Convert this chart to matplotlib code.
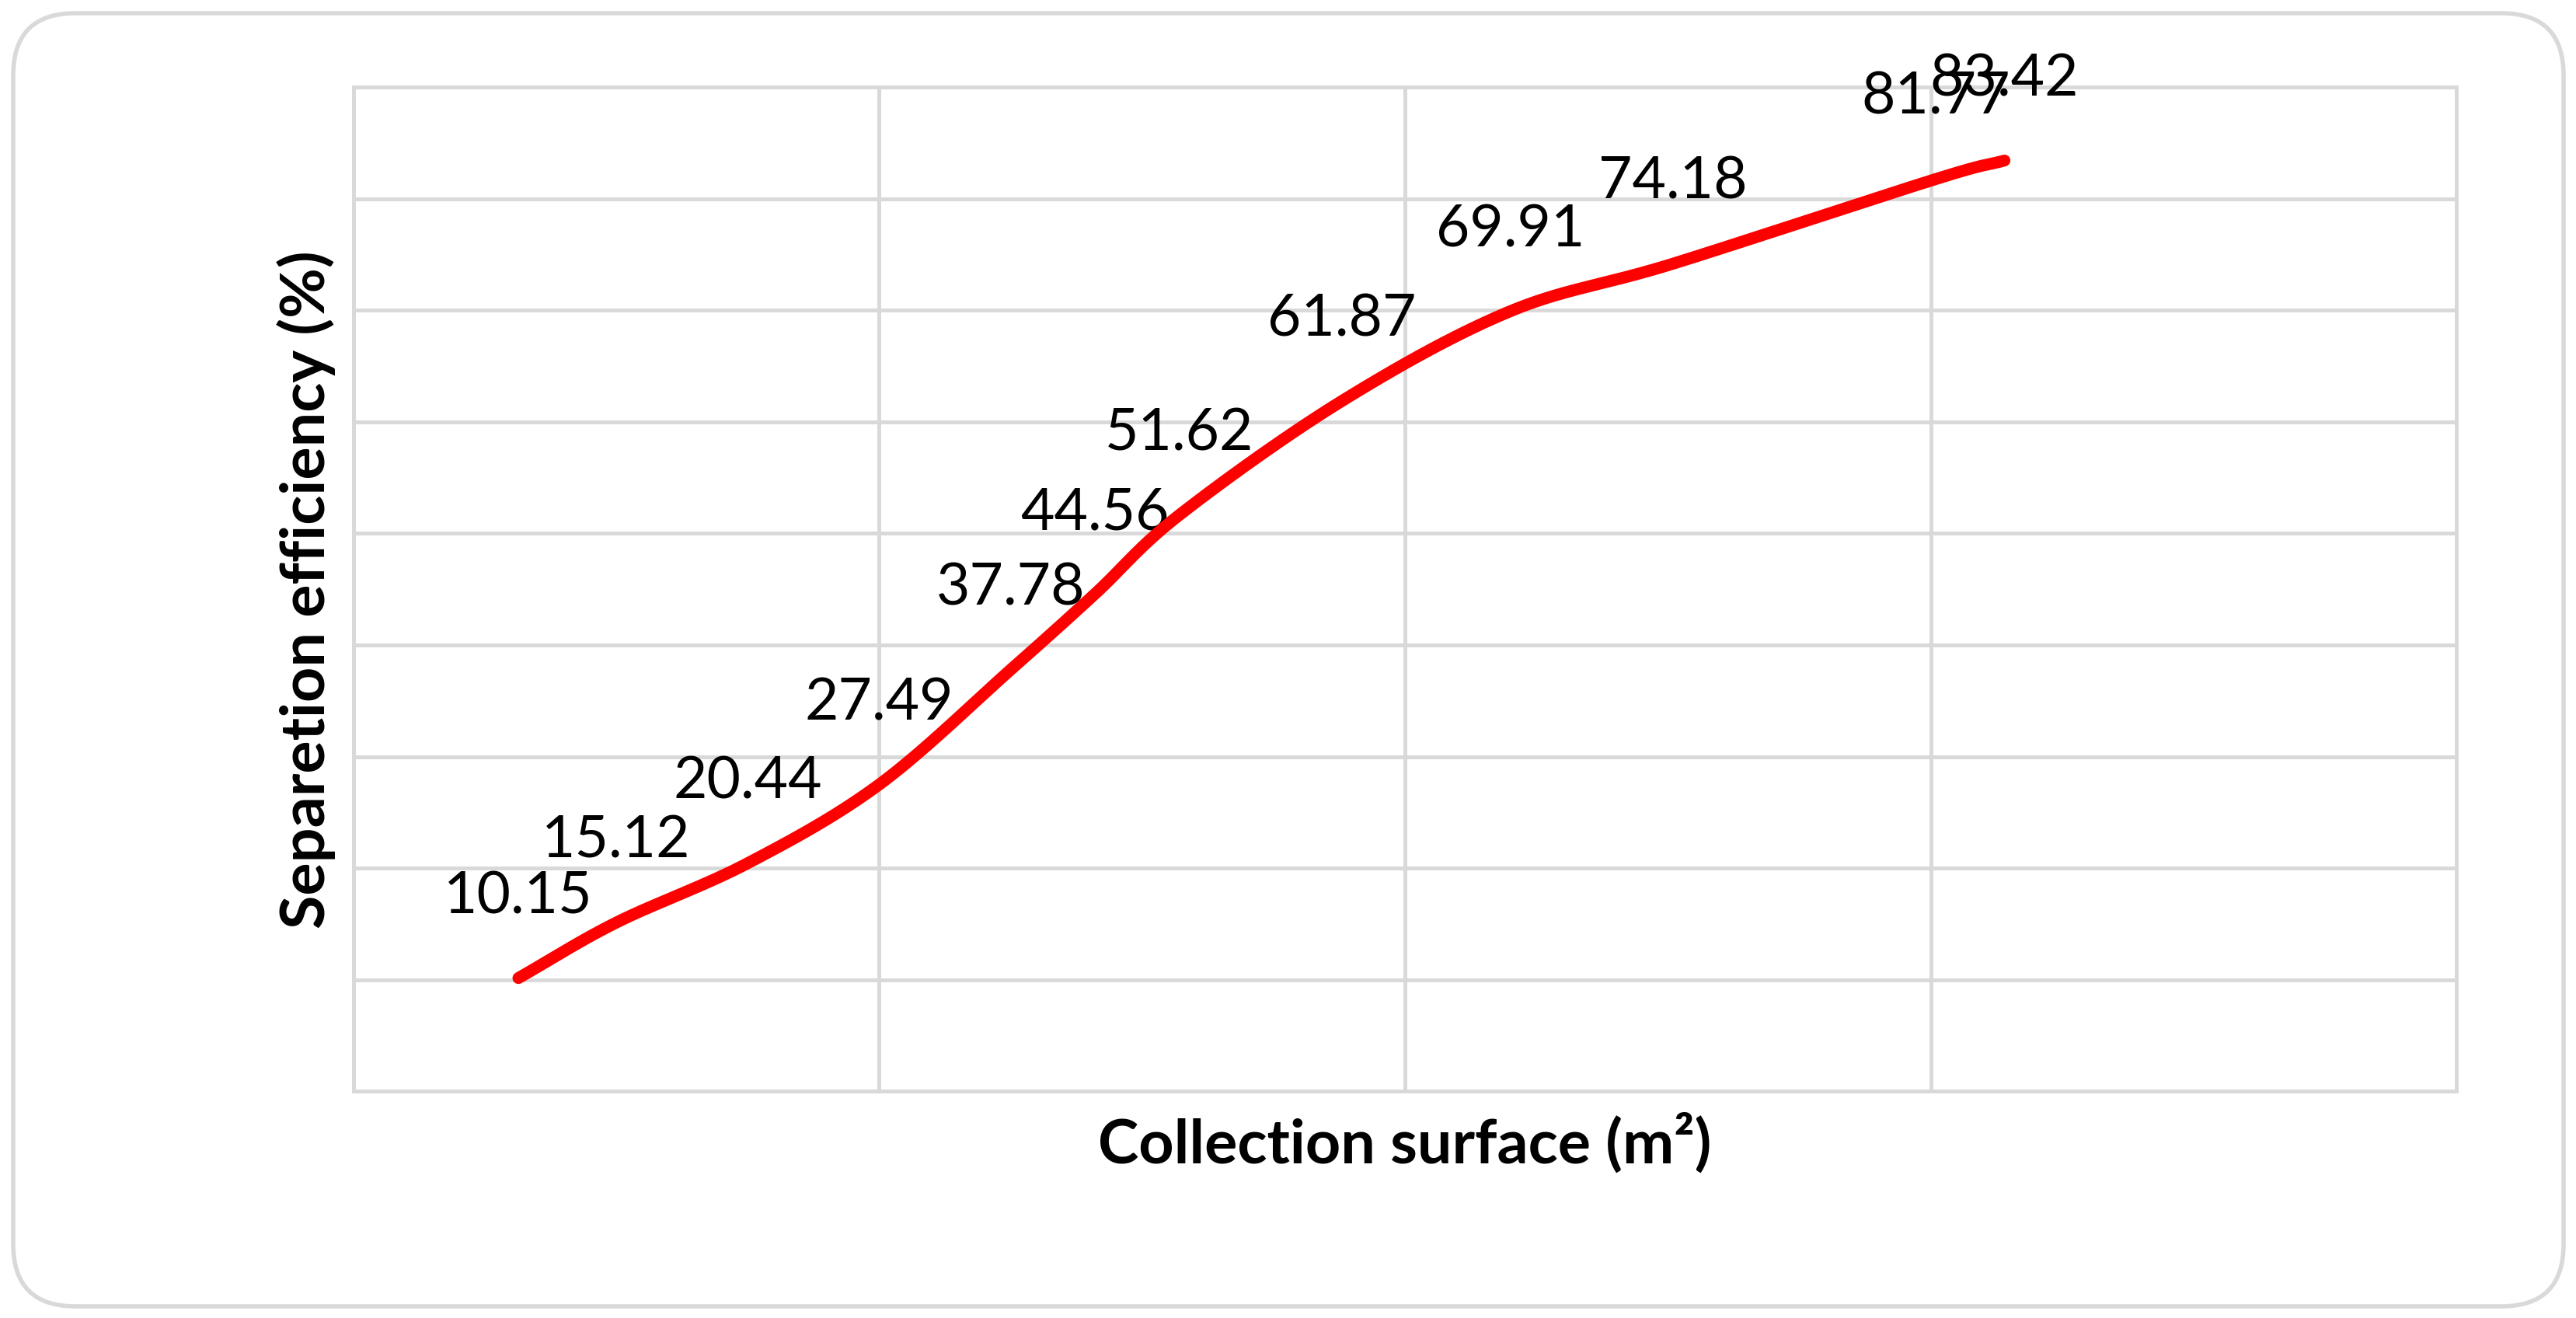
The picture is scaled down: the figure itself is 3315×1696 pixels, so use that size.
import numpy as np
import matplotlib.pyplot as plt
from matplotlib.patches import FancyBboxPatch

# collection surface (m2) and separation efficiency (%)
surface = [0.314, 0.50, 0.75, 1.00, 1.25, 1.41, 1.57, 1.88, 2.20, 2.51, 3.01, 3.14]
efficiency = [10.15, 15.12, 20.44, 27.49, 37.78, 44.56, 51.62, 61.87, 69.91, 74.18, 81.77, 83.42]
x_ticks = [0, 1, 2, 3, 4]
y_ticks = [0, 10, 20, 30, 40, 50, 60, 70, 80, 90]

grid_col = '#D9D9D9'
plt.rcParams['font.family'] = ['Lato', 'DejaVu Sans']


def smooth_line(xs, ys, n=40):
    # excel-like smoothed line: catmull-rom tangents, cubic bezier segments
    p = np.column_stack([xs, ys]).astype(float)
    m = np.zeros_like(p)
    m[1:-1] = (p[2:] - p[:-2]) / 2
    m[0] = p[1] - p[0]
    m[-1] = p[-1] - p[-2]
    t = np.linspace(0, 1, n)[:, None]
    out = []
    for i in range(len(p) - 1):
        c0 = p[i]
        c1 = p[i] + m[i] / 3
        c2 = p[i + 1] - m[i + 1] / 3
        c3 = p[i + 1]
        seg = (1 - t)**3 * c0 + 3 * (1 - t)**2 * t * c1 + 3 * (1 - t) * t**2 * c2 + t**3 * c3
        out.append(seg if i == 0 else seg[1:])
    out = np.vstack(out)
    return out[:, 0], out[:, 1]


fig = plt.figure(figsize=(16.58, 8.48), dpi=200)
ax = fig.add_axes([0.1371, 0.172, 0.9534 - 0.1371, 0.9339 - 0.172])

sx, sy = smooth_line(surface, efficiency)
ax.plot(sx, sy, color='#FF0000', lw=5.5, solid_capstyle='round', zorder=4)

for x, y in zip(surface, efficiency):
    ax.annotate(f'{y:.2f}', (x, y), xytext=(0, 30), textcoords='offset points',
                ha='center', va='baseline', fontsize=27, color='black', zorder=3)

ax.set_xlim(0, 4)
ax.set_ylim(0, 90)
ax.set_xticks(x_ticks)
ax.set_yticks(y_ticks)
ax.tick_params(length=0, labelbottom=False, labelleft=False)
ax.grid(True, color=grid_col, lw=1.8)
ax.set_axisbelow(True)
for s in ax.spines.values():
    s.set_color(grid_col)
    s.set_linewidth(1.8)

ax.set_xlabel('Collection surface (m²)', fontsize=28.5, fontweight='bold', labelpad=10)
ax.set_ylabel('Separetion efficiency (%)', fontsize=28.5, fontweight='bold', labelpad=8)

border = FancyBboxPatch((0.085, 0.075), 16.41, 8.32, boxstyle='round,pad=0,rounding_size=0.4',
                        transform=fig.dpi_scale_trans, facecolor='none', edgecolor=grid_col,
                        lw=2.0, zorder=0)
fig.patches.append(border)

fig.savefig('out.png', dpi=200, facecolor='white')
